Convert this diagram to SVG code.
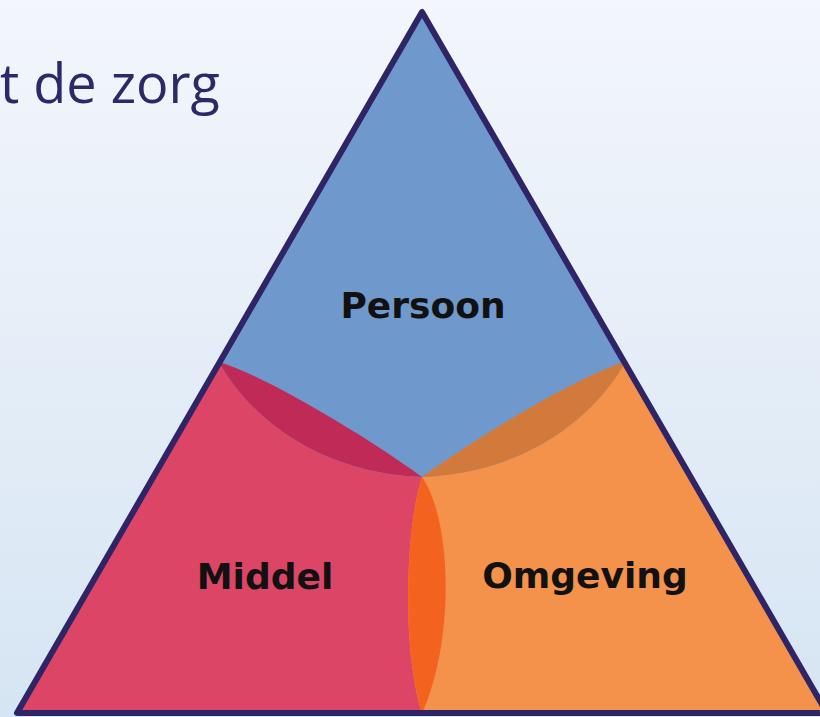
<svg xmlns="http://www.w3.org/2000/svg" width="820" height="717" viewBox="0 0 820 717">
<defs>
<linearGradient id="bg" x1="0" y1="0" x2="0" y2="1">
<stop offset="0" stop-color="#f3f6fc"/>
<stop offset="1" stop-color="#d6e5f3"/>
</linearGradient>
<clipPath id="tri"><path d="M422,12 L17,713 L827,713 Z"/></clipPath>
</defs>
<style>
.lbl{font-family:"DejaVu Sans",Verdana,sans-serif;font-weight:bold;font-size:36px;fill:#111111;text-anchor:middle}
.title{font-family:"Open Sans","Liberation Sans",sans-serif;font-size:54px;fill:#2d2868}
</style>
<rect width="820" height="717" fill="url(#bg)"/>
<text class="title" x="0" y="103">t de zorg</text>
<g id="triangle" clip-path="url(#tri)">
<path id="persoon-area" d="M422,12 L17,713 L827,713 Z" fill="#6f99cc"/>
<path id="middel-area" d="M219,362 C238,398 300,472 422,477 C452,520 455,640 422,713 L17,713 Z" fill="#dc4566"/>
<path id="omgeving-area" d="M625,362 C606,398 544,472 422,477 C405,530 402,650 422,713 L827,713 Z" fill="#f4914a"/>
<path id="lens-pm" d="M219,362 C255,372 350,425 422,477 C300,472 238,398 219,362 Z" fill="#bf2b56"/>
<path id="lens-po" d="M625,362 C589,372 494,425 422,477 C544,472 606,398 625,362 Z" fill="#d27a3c"/>
<path id="lens-mo" d="M422,477 C452,520 455,640 422,713 C402,650 405,530 422,477 Z" fill="#f3621f"/>
</g>
<path id="outline" d="M422,12 L17,713 L827,713 Z" fill="none" stroke="#2e2466" stroke-width="6" stroke-linejoin="round"/>
<g id="node-persoon"><text class="lbl" x="423" y="318">Persoon</text></g>
<g id="node-middel"><text class="lbl" x="265" y="589">Middel</text></g>
<g id="node-omgeving"><text class="lbl" x="585" y="588">Omgeving</text></g>
<g id="connectors"></g>
</svg>
